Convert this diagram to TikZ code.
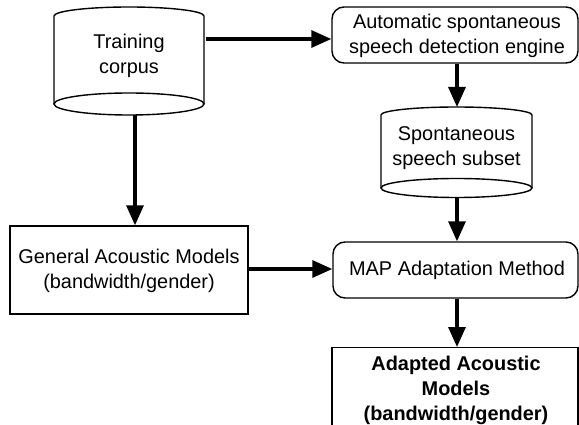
\documentclass[tikz,border=0pt]{standalone}
\usepackage{fontspec}
\setmainfont{Liberation Sans}
\usetikzlibrary{arrows.meta}
\begin{document}
\begin{tikzpicture}[x=1pt,y=-1pt,
  every node/.style={font=\fontsize{19.9pt}{25pt}\selectfont, align=center, inner sep=0pt},
  plainbox/.style={draw, line width=1.4pt, rectangle},
  roundbox/.style={draw, line width=1.4pt, rectangle, rounded corners=12pt},
  cyl/.style={draw, line width=1.4pt},
  flow/.style={line width=3.2pt, -{Triangle[length=20pt,width=17pt]}}]
\useasboundingbox (0,0) rectangle (579,425);
\clip (0,0) rectangle (579,425);
% Training corpus cylinder
\draw[cyl] (54,104) -- (54,16) arc[start angle=180, end angle=360, x radius=75, y radius=9] -- (204,104);
\draw[cyl] (129,104) ellipse [x radius=75, y radius=11];
\node (tc) at (129,55.5) {Training\\corpus};
\coordinate (tcright) at (206,39);
\coordinate (tcbot) at (135,115);
% Engine
\node[roundbox, minimum width=246pt, minimum height=56pt] (eng) at (455,35) {};
\node (engt) at (457,35.5) {Automatic spontaneous\\speech detection engine};
% Spontaneous cylinder
\draw[cyl] (381,188) -- (381,115) arc[start angle=180, end angle=360, x radius=75.5, y radius=8] -- (532,188);
\draw[cyl] (456.5,188) ellipse [x radius=75.5, y radius=9.5];
\node (sp) at (456.5,148.5) {Spontaneous\\speech subset};
\coordinate (sptop) at (457,107);
\coordinate (spbot) at (457,197.5);
% General box
\node[plainbox, minimum width=238pt, minimum height=88pt] (gen) at (129,270) {};
\node (gent) at (129,270.5) {General Acoustic Models\\(bandwidth/gender)};
% MAP
\node[roundbox, minimum width=245pt, minimum height=56pt] (map) at (455.5,270) {};
\node (mapt) at (457,270) {MAP Adaptation Method};
% Adapted
\node[plainbox, anchor=north, minimum width=246pt, minimum height=110pt] (ad) at (455,347) {};
\node[font=\fontsize{19.9pt}{25pt}\selectfont\bfseries] (adt) at (456,390) {Adapted Acoustic\\Models\\(bandwidth/gender)};
% Arrows
\draw[flow] (tcright) -- (tcright -| eng.west);
\draw[flow] (eng.south -| sptop) -- (sptop);
\draw[flow] (tcbot) -- (tcbot |- gen.north);
\draw[flow] (spbot) -- (spbot |- map.north);
\draw[flow] (gen.east |- 0,269) -- (map.west |- 0,269);
\draw[flow] (map.south -| spbot) -- (spbot |- ad.north);
\end{tikzpicture}
\end{document}
